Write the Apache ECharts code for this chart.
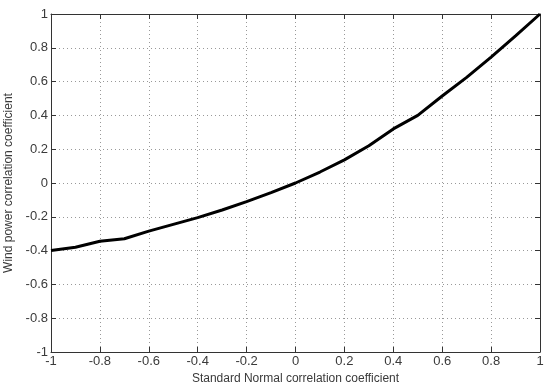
<!DOCTYPE html>
<html><head><meta charset="utf-8">
<script src="https://cdn.jsdelivr.net/npm/echarts@6/dist/echarts.min.js"></script>
<style>html,body{margin:0;padding:0;background:#fff}#c{width:550px;height:387px}</style>
</head><body><div id="c"></div>
<script>
const xValues = [-1, -0.9, -0.8, -0.7, -0.6, -0.5, -0.4, -0.3, -0.2, -0.1, 0, 0.1, 0.2, 0.3, 0.4, 0.5, 0.6, 0.7, 0.8, 0.9, 1];
const yValues = [-0.40, -0.38, -0.345, -0.33, -0.285, -0.245, -0.205, -0.16, -0.11, -0.057, 0, 0.065, 0.137, 0.22, 0.32, 0.40, 0.515, 0.625, 0.745, 0.87, 1.0];
const xTitle = 'Standard Normal correlation coefficient';
const yTitle = 'Wind power correlation coefficient';

const chart = echarts.init(document.getElementById('c'));
const lbl = {color:'#3a3a3a', fontFamily:'Arial, "Liberation Sans"', fontSize:13};
const axLine = {show:true, onZero:false, lineStyle:{color:'#333', width:1}};
const grid = {show:true, lineStyle:{color:'#999', type:[1,3], width:1}};
const fmt = v => (Math.round(v*10)/10).toString();
const tick = {inside:true, length:5, lineStyle:{color:'#333'}};
chart.setOption({
  animation:false,
  grid:{left:51, right:10, top:14, bottom:35, containLabel:false, outerBoundsMode:'none'},
  xAxis:[
    {type:'value', min:-1, max:1, interval:0.2, position:'bottom',
     axisLine:axLine, axisTick:tick,
     axisLabel:Object.assign({formatter:fmt, margin:3}, lbl),
     splitLine:grid,
     name:xTitle, nameLocation:'middle', nameGap:18,
     nameTextStyle:{color:'#3a3a3a', fontFamily:'Arial, "Liberation Sans"', fontSize:12}},
    {type:'value', min:-1, max:1, interval:0.2, position:'top',
     axisLine:axLine, axisTick:tick,
     axisLabel:{show:false}, splitLine:{show:false}}
  ],
  yAxis:[
    {type:'value', min:-1, max:1, interval:0.2, position:'left',
     axisLine:axLine, axisTick:tick,
     axisLabel:Object.assign({formatter:fmt, margin:3}, lbl),
     splitLine:grid,
     name:yTitle, nameLocation:'middle', nameGap:29,
     nameTextStyle:{color:'#3a3a3a', fontFamily:'Arial, "Liberation Sans"', fontSize:12}},
    {type:'value', min:-1, max:1, interval:0.2, position:'right',
     axisLine:axLine, axisTick:tick,
     axisLabel:{show:false}, splitLine:{show:false}}
  ],
  series:[{type:'line', xAxisIndex:0, yAxisIndex:0,
    data:xValues.map((x,i)=>[x,yValues[i]]),
    showSymbol:false, smooth:false,
    lineStyle:{color:'#000', width:3}}]
});
</script></body></html>
